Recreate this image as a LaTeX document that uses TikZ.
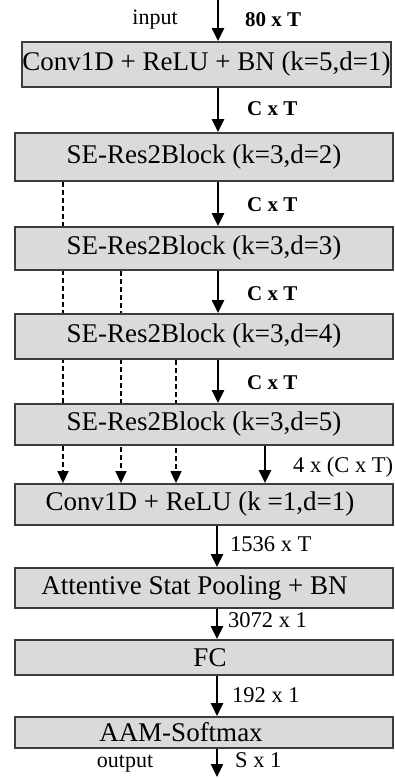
\documentclass[tikz,border=0pt]{standalone}
\usepackage{fontspec}
\setmainfont{Liberation Serif}
\usetikzlibrary{arrows.meta,backgrounds}
\definecolor{boxfill}{RGB}{218,218,218}
\definecolor{boxline}{RGB}{60,60,60}
\tikzset{
  block/.style={draw=boxline, line width=1.8pt, fill=boxfill, inner sep=0pt,
    minimum width=378pt, font=\fontsize{27}{31}\selectfont},
  flow/.style={line width=2.4pt, -{Triangle[width=12pt,length=13pt]}},
  skip/.style={line width=1.4pt, dash pattern=on 5pt off 3pt,
    -{Triangle[width=11pt,length=12pt]}},
  dim/.style={inner sep=0pt, anchor=base west, font=\fontsize{22.5}{26}\selectfont},
  dimb/.style={dim, font=\fontsize{21}{24}\selectfont\bfseries},
  io/.style={inner sep=0pt, anchor=base, font=\fontsize{22}{26}\selectfont}
}
\begin{document}
\begin{tikzpicture}[x=1pt,y=-1pt]
\useasboundingbox (0,0) rectangle (395,778);

% main blocks, top to bottom
\node[block, minimum width=367pt, minimum height=45pt] (b1) at (206.5,64.5) {Conv1D + ReLU + BN (k=5,d=1)};
\node[block, minimum height=48pt] (b2) at (204,157)   {SE-Res2Block (k=3,d=2)};
\node[block, minimum height=43pt] (b3) at (204,248.5) {SE-Res2Block (k=3,d=3)};
\node[block, minimum height=45pt] (b4) at (204,336.5) {SE-Res2Block (k=3,d=4)};
\node[block, minimum height=41pt] (b5) at (204,424.5) {SE-Res2Block (k=3,d=5)};
\node[block, minimum height=41pt] (b6) at (204,504.5) {\hspace*{-8pt}Conv1D + ReLU (k =1,d=1)};
\node[block, minimum height=40pt] (b7) at (204,588)   {\hspace*{-19pt}Attentive Stat Pooling + BN};
\node[block, minimum height=35pt] (b8) at (204,657.5) {\hspace*{12pt}FC};
\node[block, minimum height=31pt] (b9) at (204,732.5) {\hspace*{-46pt}AAM-Softmax};

% reference columns for the connectors
\coordinate (in)  at (218,0);
\coordinate (out) at (217,777);
\coordinate (s1) at (63,0);
\coordinate (s2) at (121,0);
\coordinate (s3) at (176,0);
\coordinate (cat) at (265,0);

% main path
\draw[flow] (in) -- (in |- b1.north);
\draw[flow] (b1.south -| in) -- (b2.north -| in);
\draw[flow] (b2.south -| in) -- (b3.north -| in);
\draw[flow] (b3.south -| in) -- (b4.north -| in);
\draw[flow] (b4.south -| in) -- (b5.north -| in);
\draw[flow] (b5.south -| cat) -- (b6.north -| cat);
\draw[flow] (b6.south -| out) -- (b7.north -| out);
\draw[flow] (b7.south -| out) -- (b8.north -| out);
\draw[flow] (b8.south -| out) -- (b9.north -| out);
\draw[flow] (b9.south -| out) -- (out);

% skip connections into the aggregation layer, passing behind the blocks
\begin{scope}[on background layer]
\draw[skip] (b2.south -| s1) -- (b6.north -| s1);
\draw[skip] (b3.south -| s2) -- (b6.north -| s2);
\draw[skip] (b4.south -| s3) -- (b6.north -| s3);
\end{scope}

% dimension labels
\node[io]   (lin)  at (155,25)  {input};
\node[dimb] (d0)   at (245,27)  {80 x T};
\node[dimb] (d1)   at (247,116) {C x T};
\node[dimb] (d2)   at (247,211) {C x T};
\node[dimb] (d3)   at (247,300) {C x T};
\node[dimb] (d4)   at (247,389) {C x T};
\node[dim]  (d5)   at (293,472) {4 x (C x T)};
\node[dim]  (d6)   at (230,551) {1536 x T};
\node[dim]  (d7)   at (228,627) {3072 x 1};
\node[dim]  (d8)   at (232,702) {192 x 1};
\node[io]   (lout) at (125,767) {output};
\node[dim]  (d9)   at (235,767) {S x 1};
\end{tikzpicture}
\end{document}
